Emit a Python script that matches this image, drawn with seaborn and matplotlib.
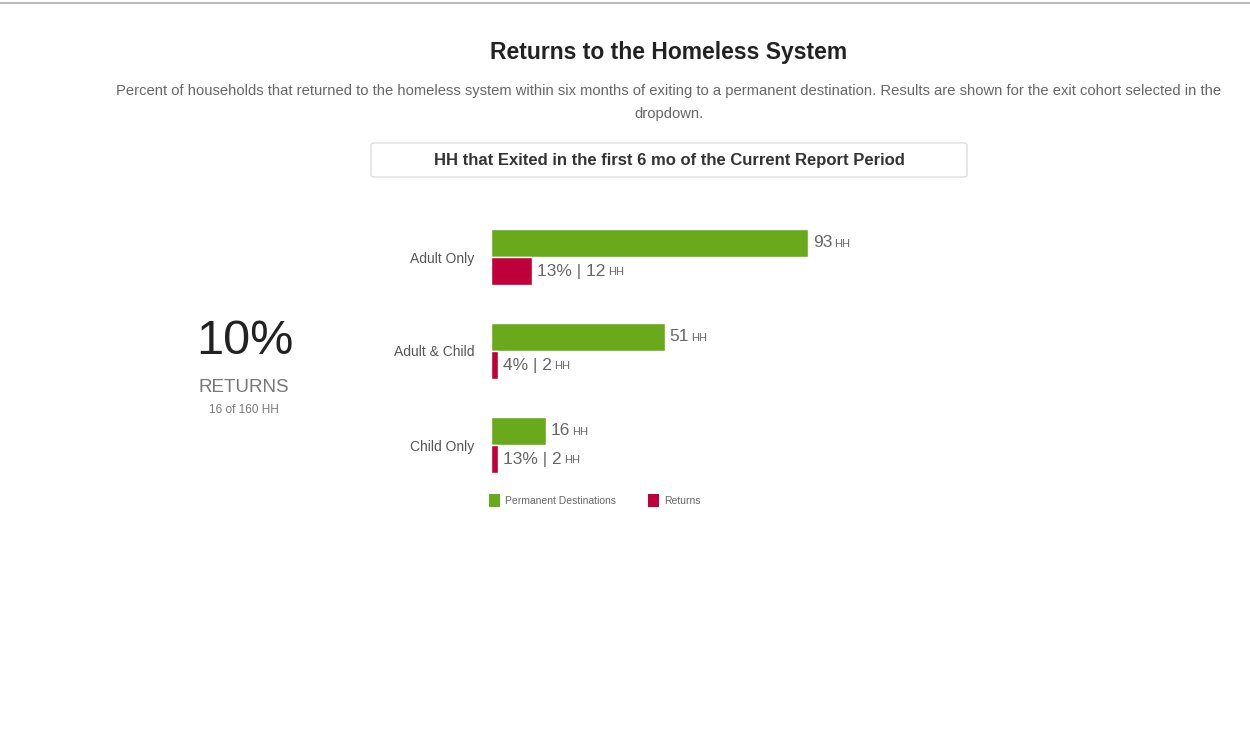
import matplotlib
matplotlib.use("Agg")
import matplotlib.pyplot as plt
from matplotlib import font_manager
from matplotlib.patches import FancyBboxPatch, Patch
from matplotlib.lines import Line2D
import seaborn as sns
import pandas as pd

# ---- data ----
groups = ["Adult Only", "Adult & Child", "Child Only"]
permanent = [93, 51, 16]
returns = [12, 2, 2]
series_names = ["Permanent Destinations", "Returns"]
colors = ["#6aa81c", "#c0003a"]

title = "Returns to the Homeless System"
subtitle = ("Percent of households that returned to the homeless system within six months of exiting to a "
            "permanent destination. Results are shown for the exit cohort selected in the\ndropdown.")
dropdown_text = "HH that Exited in the first 6 mo of the Current Report Period"

sns.set_theme(style="white")
available = {f.name for f in font_manager.fontManager.ttflist}
fam = "Liberation Sans Narrow" if "Liberation Sans Narrow" in available else "Liberation Sans"
plt.rcParams["font.family"] = [fam, "DejaVu Sans"]

W, H = 1250, 755
def fx(px):
    return px / W
def fy(py):
    return 1 - py / H

df = pd.DataFrame({
    "group": groups * 2,
    "series": [series_names[0]] * len(groups) + [series_names[1]] * len(groups),
    "value": permanent + returns,
})

fig = plt.figure(figsize=(12.5, 7.55), dpi=100)
fig.patch.set_facecolor("white")

ax = fig.add_axes([fx(491), fy(492), 409 / W, 282 / H])
sns.barplot(data=df, y="group", x="value", hue="series", order=groups,
            hue_order=series_names, palette=colors, width=0.6, orient="h",
            saturation=1, legend=False, ax=ax, errorbar=None)
ax.set_xlim(0, 120)
ax.set_ylim(2.5, -0.5)
for s in ax.spines.values():
    s.set_visible(False)
ax.set_xticks([])
ax.set_xlabel("")
ax.set_ylabel("")
ax.tick_params(axis="y", length=0, pad=12, labelsize=10, labelcolor="#555555")

# value labels
txt_color = "#666666"
for i, bar in enumerate(ax.containers[0]):
    w = bar.get_width()
    yc = bar.get_y() + bar.get_height() / 2
    t = ax.annotate(f"{permanent[i]}", xy=(w, yc), xytext=(3.5, 0), textcoords="offset points",
                    va="center", ha="left", fontsize=12.5, color=txt_color)
    ax.annotate("HH", xy=(1, 0), xycoords=t, xytext=(1.5, 1.0), textcoords="offset points",
                va="bottom", ha="left", fontsize=8, color=txt_color)
for i, bar in enumerate(ax.containers[1]):
    w = bar.get_width()
    yc = bar.get_y() + bar.get_height() / 2
    pct = int(returns[i] * 100 / permanent[i] + 0.5)
    t = ax.annotate(f"{pct}% | {returns[i]}", xy=(w, yc), xytext=(4, 0), textcoords="offset points",
                    va="center", ha="left", fontsize=12.5, color=txt_color)
    ax.annotate("HH", xy=(1, 0), xycoords=t, xytext=(1.5, 1.0), textcoords="offset points",
                va="bottom", ha="left", fontsize=8, color=txt_color)

# legend
handles = [Patch(facecolor=c, edgecolor="none") for c in colors]
leg = ax.legend(handles, series_names, loc="upper left", bbox_to_anchor=(fx(489), fy(494)),
                bbox_transform=fig.transFigure, ncol=2, frameon=False, fontsize=7.5,
                handlelength=1.05, handleheight=1.6, handletextpad=0.5, columnspacing=3.1,
                borderpad=0, borderaxespad=0)
for t in leg.get_texts():
    t.set_color("#666666")

# titles
fig.text(fx(669), fy(53), title, ha="center", va="center", fontsize=16.5, fontweight="bold", color="#222222")
fig.text(fx(669), fy(102.5), subtitle, ha="center", va="center", fontsize=10.6, color="#666666",
         linespacing=1.8)

# dropdown box
box = FancyBboxPatch((fx(371), fy(177)), 596 / W, 34 / H, boxstyle="round,pad=0,rounding_size=0.003",
                     transform=fig.transFigure, facecolor="white", edgecolor="#dddddd", linewidth=1)
fig.add_artist(box)
fig.text(fx(669), fy(160), dropdown_text, ha="center", va="center", fontsize=12,
         fontweight="bold", color="#333333")

# top line
fig.add_artist(Line2D([0, 1], [fy(3), fy(3)], transform=fig.transFigure, color="#bbbbbb", linewidth=1.5))

# KPI
total_ret = sum(returns)
total_perm = sum(permanent)
fig.text(fx(245), fy(342), f"{round(total_ret * 100 / total_perm)}%", ha="center", va="center",
         fontsize=35, color="#222222")
fig.text(fx(244), fy(388), "RETURNS", ha="center", va="center", fontsize=13.5, color="#777777")
fig.text(fx(244), fy(410), f"{total_ret} of {total_perm} HH", ha="center", va="center",
         fontsize=8.5, color="#777777")

fig.savefig("out.png", dpi=100, facecolor="white")
